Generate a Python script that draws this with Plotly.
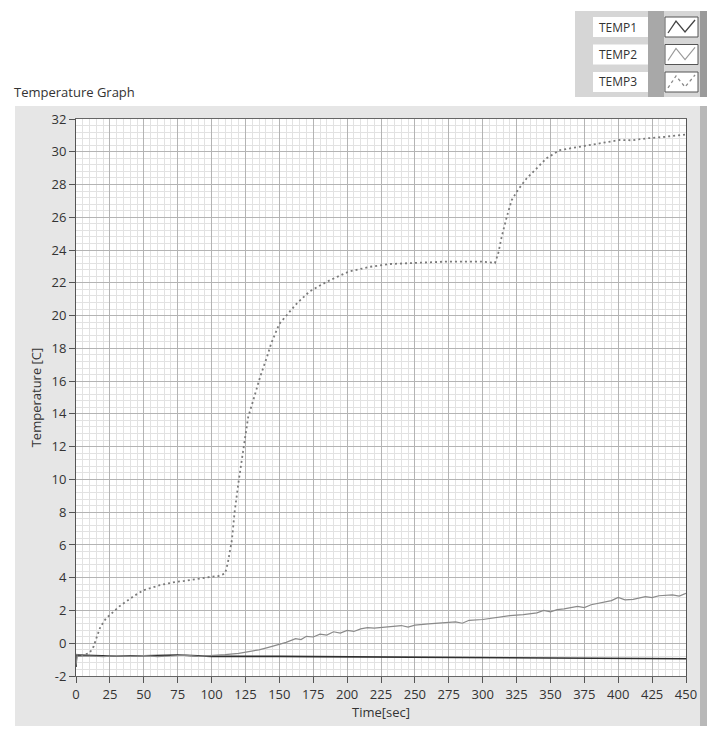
import plotly.graph_objects as go

# ---------------- data ----------------
T1_TIME = [0, 0, 1, 25, 50, 75, 100, 125, 150, 175, 200, 250, 300, 350, 400, 425, 450]
T1_VALUE = [-1.45, -0.75, -0.72, -0.78, -0.76, -0.72, -0.8, -0.78, -0.8, -0.82, -0.83,
            -0.84, -0.86, -0.88, -0.9, -0.93, -0.95]

T2_TIME = [0, 1, 10, 20, 30, 40, 50, 60, 70, 80, 90, 100, 110, 120, 128, 135, 142, 148,
           155, 162, 166, 170, 175, 180, 185, 190, 195, 200, 205, 210, 215, 220, 230, 240,
           245, 250, 260, 270, 280, 285, 290, 300, 310, 320, 330, 340, 345, 350, 355, 360,
           370, 375, 380, 390, 395, 400, 405, 411, 420, 425, 430, 440, 445, 450]
T2_VALUE = [-1.3, -0.8, -0.78, -0.82, -0.76, -0.8, -0.75, -0.82, -0.78, -0.72, -0.8, -0.76,
            -0.7, -0.62, -0.52, -0.4, -0.25, -0.11, 0.05, 0.28, 0.22, 0.42, 0.38, 0.55,
            0.5, 0.7, 0.62, 0.78, 0.72, 0.88, 0.95, 0.92, 1.0, 1.08, 0.98, 1.1, 1.18, 1.25,
            1.3, 1.22, 1.4, 1.45, 1.58, 1.68, 1.75, 1.85, 2.0, 1.92, 2.05, 2.1, 2.25, 2.18,
            2.35, 2.5, 2.6, 2.8, 2.65, 2.68, 2.85, 2.78, 2.9, 2.95, 2.88, 3.04]

T3_TIME = [0, 5, 10, 13, 15, 18, 22, 27, 32, 37, 43, 50, 56, 62, 68, 74, 80, 86, 92, 99,
           105, 110, 112, 115, 117, 120, 122, 125, 127, 131, 136, 141, 144, 150, 155, 163,
           172, 185, 201, 217, 232, 249, 260, 274, 286, 298, 305, 309, 311.5, 314, 317.7,
           321.4, 326, 332.5, 340, 347, 357, 372, 384, 392, 401, 410, 421, 433, 446, 450]
T3_VALUE = [-0.7, -0.72, -0.6, -0.2, 0.3, 1.0, 1.5, 1.9, 2.25, 2.55, 2.9, 3.24, 3.4, 3.55,
            3.65, 3.75, 3.8, 3.86, 3.95, 4.05, 4.1, 4.26, 4.9, 6.3, 8.0, 9.9, 11.0, 12.4,
            13.8, 14.9, 16.3, 17.5, 18.3, 19.5, 20.0, 20.75, 21.45, 22.07, 22.68, 22.98,
            23.15, 23.23, 23.25, 23.3, 23.3, 23.3, 23.25, 23.2, 23.8, 24.8, 26.0, 27.05,
            27.67, 28.38, 29.0, 29.6, 30.1, 30.31, 30.52, 30.6, 30.72, 30.7, 30.82, 30.9,
            31.02, 31.05]

SERIES_NAMES = ["TEMP1", "TEMP2", "TEMP3"]
X_TICKS = list(range(0, 475, 25))
X_TICK_TEXT = [str(v) for v in X_TICKS]
Y_TICKS = list(range(-2, 34, 2))
Y_TICK_TEXT = [str(v) for v in Y_TICKS]

FONT = "Open Sans, Noto Sans, sans-serif"
TXT = "#333333"

# page offset (body margin) compensation
OFF = 8
W, H = 715 - OFF, 729 - OFF
PL, PR, PT, PB = 76, 686, 119, 676  # desired plot area in window pixels

fig = go.Figure()
fig.add_trace(go.Scatter(x=T1_TIME, y=T1_VALUE, mode="lines", name=SERIES_NAMES[0],
                         line=dict(color="#2e2e2e", width=1.6)))
fig.add_trace(go.Scatter(x=T2_TIME, y=T2_VALUE, mode="lines", name=SERIES_NAMES[1],
                         line=dict(color="#8a8a8a", width=1.2)))
fig.add_trace(go.Scatter(x=T3_TIME, y=T3_VALUE, mode="lines", name=SERIES_NAMES[2],
                         line=dict(color="#7a7a7a", width=1.8, dash="2px,3px")))


def px(x):
    return (x - PL) / (PR - PL)


def py(y):
    return (PB - y) / (PB - PT)


shapes = []
# gray panel
shapes.append(dict(type="rect", xref="paper", yref="paper", x0=px(15), x1=px(703), y0=py(726), y1=py(106),
                   fillcolor="#e6e6e6", line=dict(width=0), layer="below"))
shapes.append(dict(type="rect", xref="paper", yref="paper", x0=px(700), x1=px(716), y0=py(726), y1=py(106),
                   fillcolor="#b8b8b8", line=dict(width=0), layer="below"))
shapes.append(dict(type="rect", xref="paper", yref="paper", x0=0, x1=1, y0=0, y1=1,
                   fillcolor="white", line=dict(width=0), layer="below"))

# legend box
shapes.append(dict(type="rect", xref="paper", yref="paper", x0=px(575), x1=px(716), y0=py(97), y1=py(11),
                   fillcolor="#d6d6d6", line=dict(width=0)))
shapes.append(dict(type="rect", xref="paper", yref="paper", x0=px(648), x1=px(664), y0=py(97), y1=py(11),
                   fillcolor="#a8a8a8", line=dict(width=0)))
shapes.append(dict(type="rect", xref="paper", yref="paper", x0=px(700), x1=px(716), y0=py(97), y1=py(11),
                   fillcolor="#9a9a9a", line=dict(width=0)))
row_centers = [27, 54.5, 82]
glyph_styles = [dict(color="#444", width=1.3, dash="solid"),
                dict(color="#999", width=1.2, dash="solid"),
                dict(color="#888", width=1.3, dash="dot")]
annotations = []
for name, cy, st in zip(SERIES_NAMES, row_centers, glyph_styles):
    shapes.append(dict(type="rect", xref="paper", yref="paper", x0=px(593), x1=px(648),
                       y0=py(cy + 10), y1=py(cy - 10), fillcolor="white", line=dict(width=0)))
    shapes.append(dict(type="rect", xref="paper", yref="paper", x0=px(665), x1=px(698),
                       y0=py(cy + 10), y1=py(cy - 10), fillcolor="white",
                       line=dict(color="#555", width=1)))
    path = "M {:.4f} {:.4f} L {:.4f} {:.4f} L {:.4f} {:.4f} L {:.4f} {:.4f}".format(
        px(668), py(cy + 6), px(676), py(cy - 6), px(685), py(cy + 5), px(695), py(cy - 7))
    shapes.append(dict(type="path", xref="paper", yref="paper", path=path, line=st))
    annotations.append(dict(text=name, xref="paper", yref="paper", x=px(597), y=py(cy),
                            xanchor="left", yanchor="middle", showarrow=False,
                            font=dict(family=FONT, size=12, color=TXT)))

annotations.append(dict(text="Temperature Graph", xref="paper", yref="paper", x=px(12), y=py(92),
                        xanchor="left", yanchor="middle", showarrow=False,
                        font=dict(family=FONT, size=13, color=TXT)))

fig.update_layout(
    width=W, height=H,
    margin=dict(l=PL - OFF, r=715 - PR, t=PT - OFF, b=729 - PB, pad=0),
    paper_bgcolor="white", plot_bgcolor="white",
    showlegend=False,
    shapes=shapes, annotations=annotations,
    font=dict(family=FONT, size=13, color=TXT),
)
fig.update_xaxes(
    range=[0, 450], tickvals=X_TICKS, ticktext=X_TICK_TEXT,
    ticks="outside", ticklen=6, tickcolor="#555", tickfont=dict(size=13, color=TXT),
    showgrid=True, gridcolor="#b4b4b4", gridwidth=1,
    minor=dict(dtick=5, showgrid=True, gridcolor="#e2e2e2", gridwidth=1),
    showline=True, linecolor="#666", mirror=True, zeroline=False,
    title=dict(text="Time[sec]", font=dict(size=13, color=TXT), standoff=4),
)
fig.update_yaxes(
    range=[-2, 32], tickvals=Y_TICKS, ticktext=Y_TICK_TEXT,
    ticks="outside", ticklen=6, tickcolor="#555", tickfont=dict(size=13, color=TXT),
    showgrid=True, gridcolor="#b4b4b4", gridwidth=1,
    minor=dict(dtick=0.4, showgrid=True, gridcolor="#e2e2e2", gridwidth=1),
    showline=True, linecolor="#555", mirror=True, zeroline=False,
    title=dict(text="Temperature [C]", font=dict(size=13, color=TXT), standoff=6),
)

fig.write_html("out.html")
